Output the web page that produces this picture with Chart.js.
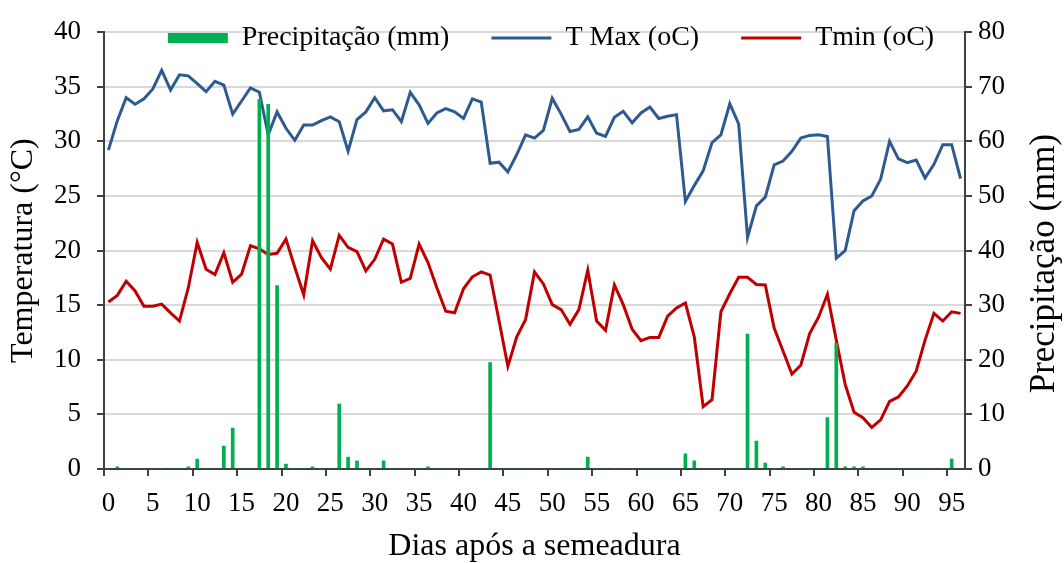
<!DOCTYPE html>
<html>
<head>
<meta charset="utf-8">
<script src="https://cdn.jsdelivr.net/npm/chart.js@4.4.1/dist/chart.umd.min.js"></script>
<style>
  html, body { margin: 0; padding: 0; background: #ffffff; }
  #wrap { width: 1064px; height: 563px; }
</style>
</head>
<body>
<div id="wrap"><canvas id="c" width="1064" height="563"></canvas></div>
<script>
// Days after sowing (0 .. 96)
const days = [
  '0','1','2','3','4','5','6','7','8','9',
  '10','11','12','13','14','15','16','17','18','19',
  '20','21','22','23','24','25','26','27','28','29',
  '30','31','32','33','34','35','36','37','38','39',
  '40','41','42','43','44','45','46','47','48','49',
  '50','51','52','53','54','55','56','57','58','59',
  '60','61','62','63','64','65','66','67','68','69',
  '70','71','72','73','74','75','76','77','78','79',
  '80','81','82','83','84','85','86','87','88','89',
  '90','91','92','93','94','95','96'
];

// Daily rainfall (mm)
const precipitacao = [
  0, 0.4, 0, 0, 0, 0, 0, 0, 0, 0.4,
  1.8, 0, 0, 4.2, 7.5, 0, 0, 67.7, 66.8, 33.6,
  0.9, 0, 0, 0.4, 0, 0, 11.9, 2.2, 1.5, 0,
  0, 1.5, 0, 0, 0, 0, 0.4, 0, 0, 0,
  0, 0, 0, 19.5, 0, 0, 0, 0, 0, 0,
  0, 0, 0, 0, 2.2, 0, 0, 0, 0, 0,
  0, 0, 0, 0, 0, 2.8, 1.5, 0, 0, 0,
  0, 0, 24.7, 5.1, 1.1, 0, 0.4, 0, 0, 0,
  0, 9.4, 23, 0.4, 0.4, 0.4, 0, 0, 0, 0,
  0, 0, 0, 0, 0, 1.8, 0
];

// Daily maximum temperature (°C)
const tMax = [
  29.2, 31.9, 34.0, 33.4, 33.9, 34.8, 36.5, 34.7, 36.1, 36.0,
  35.3, 34.55, 35.5, 35.15, 32.5, 33.7, 34.9, 34.5, 30.6, 32.7,
  31.2, 30.1, 31.5, 31.5, 31.9, 32.25, 31.8, 29.1, 32.0, 32.7,
  34.0, 32.8, 32.9, 31.8, 34.5, 33.35, 31.65, 32.6, 33.0, 32.7,
  32.1, 33.9, 33.6, 28.0, 28.1, 27.2, 28.8, 30.6, 30.3, 31.0,
  33.95, 32.5, 30.9, 31.1, 32.25, 30.75, 30.45, 32.2, 32.75, 31.7,
  32.6, 33.15, 32.1, 32.3, 32.45, 24.5, 25.95, 27.3, 29.9, 30.6,
  33.45, 31.6, 21.2, 24.1, 24.9, 27.85, 28.2, 29.1, 30.3, 30.55,
  30.6, 30.45, 19.3, 20.0, 23.65, 24.55, 25.0, 26.55, 30.0, 28.4,
  28.05, 28.3, 26.65, 27.9, 29.7, 29.7, 26.6
];

// Daily minimum temperature (°C)
const tMin = [
  15.3, 15.9, 17.2, 16.3, 14.9, 14.9, 15.1, 14.3, 13.55, 16.6,
  20.75, 18.3, 17.8, 19.8, 17.1, 17.85, 20.45, 20.15, 19.65, 19.75,
  21.05, 18.45, 15.95, 20.9, 19.35, 18.3, 21.4, 20.3, 19.9, 18.15,
  19.2, 21.05, 20.6, 17.1, 17.45, 20.6, 18.9, 16.6, 14.45, 14.3,
  16.5, 17.6, 18.05, 17.75, 13.6, 9.4, 12.1, 13.7, 18.05, 16.95,
  15.05, 14.6, 13.25, 14.6, 18.2, 13.55, 12.7, 16.85, 15.05, 12.8,
  11.75, 12.05, 12.05, 14.0, 14.75, 15.2, 12.1, 5.7, 6.35, 14.4,
  16.05, 17.55, 17.55, 16.9, 16.85, 12.9, 10.8, 8.7, 9.5, 12.4,
  13.9, 16.0, 11.8, 7.75, 5.2, 4.7, 3.8, 4.5, 6.2, 6.6,
  7.6, 8.95, 11.8, 14.25, 13.55, 14.4, 14.25
];

const seriesLabels = ['Precipitação (mm)', 'T Max (oC)', 'Tmin (oC)'];
const axisTitles = { x: 'Dias após a semeadura', left: 'Temperatura (°C)', right: 'Precipitação (mm)' };

const SERIF = "'Liberation Serif', 'Times New Roman', serif";
const AXIS = '#404040';
const GREEN = '#00B050', BLUE = '#2E5A92', RED = '#C00000';

// Legend sits inside the plot, over the top gridline: it takes no layout space.
const insideLegend = {
  id: 'insideLegend',
  beforeLayout(chart) {
    const lg = chart.legend;
    if (lg && !lg._noSpace) {
      const fit = lg.fit;
      lg.fit = function () { fit.call(this); this._realHeight = this.height; this.height = 0; };
      lg._noSpace = true;
    }
  },
  afterLayout(chart) {
    const lg = chart.legend;
    if (!lg) return;
    lg.top = -18;
    lg.bottom = lg.top + (lg._realHeight || 120);
    lg.left += 19;
    lg.right += 19;
  }
};

// Secondary axis title, read bottom-to-top like the primary one.
const rightTitle = {
  id: 'rightTitle',
  afterDraw(chart) {
    const { ctx, chartArea } = chart;
    ctx.save();
    ctx.translate(1045, (chartArea.top + chartArea.bottom) / 2 + 13);
    ctx.rotate(-Math.PI / 2);
    ctx.font = '35px ' + SERIF;
    ctx.fillStyle = '#000';
    ctx.textAlign = 'center';
    ctx.textBaseline = 'middle';
    ctx.fillText(axisTitles.right, 0, 0);
    ctx.restore();
  }
};

new Chart(document.getElementById('c'), {
  data: {
    labels: days,
    datasets: [
      {
        type: 'bar',
        label: seriesLabels[0],
        data: precipitacao,
        yAxisID: 'y2',
        backgroundColor: GREEN,
        borderColor: GREEN,
        borderWidth: 0,
        barThickness: 3
      },
      {
        type: 'line',
        label: seriesLabels[1],
        data: tMax,
        yAxisID: 'y',
        borderColor: BLUE,
        backgroundColor: BLUE,
        borderWidth: 3,
        pointRadius: 0,
        tension: 0
      },
      {
        type: 'line',
        label: seriesLabels[2],
        data: tMin,
        yAxisID: 'y',
        borderColor: RED,
        backgroundColor: RED,
        borderWidth: 3,
        pointRadius: 0,
        tension: 0
      }
    ]
  },
  options: {
    responsive: false,
    animation: false,
    devicePixelRatio: 1,
    layout: { padding: { top: 27, left: 0, right: 0, bottom: 0 } },
    plugins: {
      tooltip: { enabled: false },
      legend: {
        display: true,
        position: 'top',
        labels: {
          usePointStyle: true,
          pointStyleWidth: 60,
          boxHeight: 10,
          padding: 42,
          color: '#000',
          font: { family: SERIF, size: 28 },
          generateLabels(chart) {
            return chart.data.datasets.map((ds, i) => ({
              text: ds.label,
              fillStyle: ds.backgroundColor,
              strokeStyle: ds.borderColor,
              lineWidth: ds.type === 'bar' ? 0 : 3,
              pointStyle: ds.type === 'bar' ? 'rect' : 'line',
              fontColor: '#000',
              hidden: false,
              datasetIndex: i
            }));
          }
        }
      }
    },
    scales: {
      x: {
        type: 'category',
        offset: true,
        afterFit(scale) { scale.height = 94; },
        grid: {
          offset: true,
          drawOnChartArea: false,
          drawTicks: true,
          tickLength: 7,
          lineWidth: 2,
          tickColor: ctx => (ctx.index % 5 === 0 ? AXIS : 'rgba(0,0,0,0)'),
          color: 'rgba(0,0,0,0)'
        },
        border: { display: true, color: AXIS, width: 2 },
        ticks: {
          autoSkip: false,
          maxRotation: 0,
          minRotation: 0,
          padding: 14,
          color: '#000',
          font: { family: SERIF, size: 27, lineHeight: 1 },
          callback(value, index) { return index % 5 === 0 ? this.getLabelForValue(value) : ''; }
        },
        title: {
          display: true,
          text: axisTitles.x,
          color: '#000',
          font: { family: SERIF, size: 32, lineHeight: 1 },
          padding: { top: 0, bottom: 0 }
        }
      },
      y: {
        type: 'linear',
        position: 'left',
        min: 0,
        max: 40,
        afterFit(scale) { scale.width = 104; },
        grid: {
          drawOnChartArea: true,
          tickLength: 7,
          lineWidth: 2,
          color: ctx => (ctx.tick && ctx.tick.value === 0 ? 'rgba(0,0,0,0)' : '#D9D9D9'),
          tickColor: AXIS
        },
        border: { display: true, color: AXIS, width: 2 },
        ticks: {
          stepSize: 5,
          padding: 16,
          color: '#000',
          font: { family: SERIF, size: 27 }
        },
        title: {
          display: true,
          text: axisTitles.left,
          color: '#000',
          font: { family: SERIF, size: 32, lineHeight: 1 },
          padding: { top: 8, bottom: 0 }
        }
      },
      y2: {
        type: 'linear',
        position: 'right',
        min: 0,
        max: 80,
        afterFit(scale) { scale.width = 99; },
        grid: {
          drawOnChartArea: false,
          tickLength: 7,
          lineWidth: 2,
          tickColor: AXIS
        },
        border: { display: true, color: AXIS, width: 2 },
        ticks: {
          stepSize: 10,
          padding: 6,
          color: '#000',
          font: { family: SERIF, size: 27 }
        }
      }
    }
  },
  plugins: [insideLegend, rightTitle]
});
</script>
</body>
</html>
